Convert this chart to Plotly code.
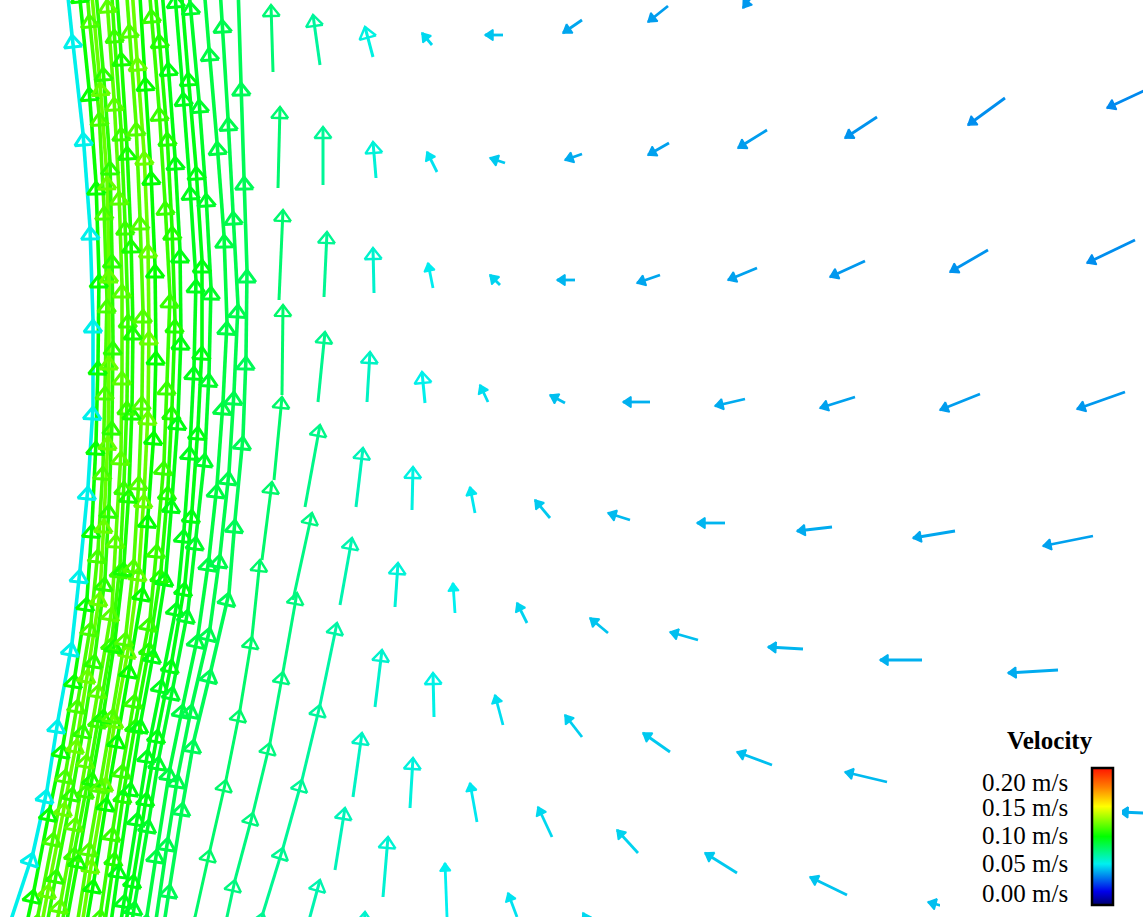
import math
import plotly.graph_objects as go
import plotly.colors as pc

# ---------------- data ----------------
# Isolated velocity vectors: tail position (x, depth in mm, depth grows downward)
# and in-plane velocity components u (to the right) and w (upward) in m/s,
# plus the velocity magnitude used for colouring.
tail_x = [
    # column Z
    273, 278, 279, 282, 274, 262, 252, 240, 226, 210, 195, 182,
    # column A
    320, 323, 324, 318, 305, 293, 283, 270, 253, 235, 222,
    # column B
    373, 376, 374, 367, 356, 340, 320, 302, 283, 263, 248,
    # column C
    432, 437, 433, 425, 412, 395, 375, 353, 335, 305,
    # column D
    503, 505, 500, 488, 475, 455, 434, 410, 383, 362,
    # column E
    582, 582, 575, 565, 550, 527, 503, 477, 447,
    # column F
    668, 669, 660, 650, 630, 608, 582, 552, 517,
    # column G
    755, 767, 757, 745, 725, 698, 670, 638, 598,
    # column H
    877, 865, 855, 832, 803, 772, 737,
    # column I
    1005, 988, 980, 955, 922, 887, 847,
    # column J
    1150, 1135, 1125, 1093, 1058, 1015, 975,
    # column K
    1190,
]
tail_depth = [
    72, 188, 300, 395, 480, 560, 637, 710, 780, 850, 917, 975,
    65, 185, 297, 402, 507, 600, 672, 743, 813, 880, 940,
    57, 178, 293, 402, 507, 605, 705, 780, 848, 913, 965,
    45, 172, 288, 403, 510, 607, 707, 797, 870, 935,
    35, 163, 285, 402, 513, 613, 717, 808, 897, 965,
    20, 154, 280, 403, 518, 623, 725, 822, 917,
    6, 143, 275, 402, 520, 633, 737, 837, 917,
    -8, 130, 268, 399, 523, 640, 752, 853, 940,
    117, 261, 397, 527, 649, 765, 873,
    98, 250, 394, 531, 660, 782, 895,
    88, 240, 392, 536, 670, 795, 915,
    815,
]
vel_u = [
    -0.002, 0.002, 0.004, 0.001, 0.008, 0.010, 0.008, 0.012, 0.014, 0.016, 0.015, 0.013,
    -0.007, 0.000, 0.003, 0.007, 0.015, 0.019, 0.014, 0.013, 0.017, 0.018, 0.013,
    -0.008, -0.003, -0.001, 0.003, 0.007, 0.012, 0.017, 0.018, 0.019, 0.020, 0.015,
    -0.010, -0.010, -0.005, -0.003, 0.001, 0.003, 0.007, 0.009, 0.010, 0.015,
    -0.018, -0.015, -0.010, -0.008, -0.005, -0.002, -0.001, 0.003, 0.005, 0.003,
    -0.019, -0.017, -0.018, -0.015, -0.015, -0.010, -0.008, -0.007, -0.002,
    -0.020, -0.021, -0.023, -0.027, -0.022, -0.018, -0.017, -0.014, -0.009,
    -0.012, -0.029, -0.029, -0.030, -0.028, -0.028, -0.027, -0.021, -0.015,
    -0.032, -0.035, -0.035, -0.035, -0.035, -0.035, -0.032,
    -0.037, -0.038, -0.040, -0.042, -0.042, -0.042, -0.037,
    -0.043, -0.048, -0.048, -0.050, -0.050, -0.050, -0.047,
    -0.070,
]
vel_w = [
    0.067, 0.081, 0.090, 0.090, 0.083, 0.078, 0.077, 0.073, 0.070, 0.070, 0.067, 0.058,
    0.050, 0.058, 0.065, 0.070, 0.082, 0.087, 0.079, 0.071, 0.070, 0.067, 0.060,
    0.030, 0.036, 0.045, 0.050, 0.059, 0.067, 0.082, 0.075, 0.068, 0.065, 0.052,
    0.012, 0.020, 0.025, 0.031, 0.043, 0.044, 0.057, 0.064, 0.062, 0.055,
    0.000, 0.005, 0.010, 0.017, 0.026, 0.030, 0.044, 0.050, 0.060, 0.053,
    -0.013, -0.006, 0.000, 0.008, 0.018, 0.020, 0.030, 0.039, 0.054,
    -0.016, -0.012, -0.008, 0.000, 0.007, 0.015, 0.022, 0.030, 0.024,
    -0.016, -0.018, -0.012, -0.007, 0.000, 0.008, 0.019, 0.023, 0.027,
    -0.021, -0.016, -0.011, -0.004, 0.002, 0.013, 0.020,
    -0.027, -0.022, -0.016, -0.007, 0.000, 0.010, 0.018,
    -0.020, -0.023, -0.017, -0.010, -0.003, 0.005, 0.013,
    0.003,
]
vel_mag = [
    0.080, 0.081, 0.081, 0.082, 0.082, 0.082, 0.082, 0.082, 0.082, 0.082, 0.082, 0.082,
    0.072, 0.073, 0.074, 0.075, 0.076, 0.077, 0.078, 0.078, 0.078, 0.078, 0.078,
    0.058, 0.060, 0.062, 0.064, 0.066, 0.068, 0.070, 0.072, 0.073, 0.074, 0.074,
    0.050, 0.052, 0.054, 0.056, 0.058, 0.060, 0.062, 0.064, 0.066, 0.068,
    0.046, 0.047, 0.049, 0.051, 0.053, 0.055, 0.057, 0.059, 0.061, 0.062,
    0.040, 0.041, 0.043, 0.045, 0.047, 0.049, 0.051, 0.053, 0.055,
    0.038, 0.039, 0.040, 0.042, 0.044, 0.046, 0.048, 0.050, 0.052,
    0.037, 0.038, 0.039, 0.041, 0.043, 0.045, 0.047, 0.049, 0.050,
    0.036, 0.037, 0.039, 0.041, 0.043, 0.045, 0.047,
    0.035, 0.036, 0.038, 0.040, 0.042, 0.044, 0.046,
    0.034, 0.035, 0.037, 0.039, 0.041, 0.043, 0.045,
    0.042,
]

# Dense near-wall jet: chains of arrows along mesh columns
# (vertices from bottom to top, each arrow runs from one vertex to the next).
col_x = [
    [6, 33, 47, 58, 72, 80, 88, 93, 93, 90, 83, 72, 62],
    [20, 34, 50, 63, 75, 87, 92, 96, 98, 99, 96, 89, 79, 70],
    [26, 38, 54, 66, 78, 91, 98, 103, 105, 107, 104, 99, 89, 81],
    [37, 49, 65, 77, 88, 100, 104, 108, 109, 109, 107, 100, 91, 82],
    [45, 57, 73, 84, 95, 105, 109, 112, 113, 112, 110, 103, 94, 86],
    [49, 61, 76, 87, 99, 112, 116, 121, 122, 122, 119, 114, 107, 100],
    [49, 61, 75, 87, 99, 112, 120, 124, 127, 128, 125, 121, 114, 108],
    [67, 79, 93, 104, 115, 124, 129, 132, 133, 131, 127, 121, 114, 108],
    [66, 77, 90, 101, 113, 126, 134, 139, 142, 143, 140, 136, 129, 122],
    [82, 92, 106, 116, 129, 139, 144, 148, 149, 148, 144, 137, 130, 123],
    [83, 94, 107, 118, 130, 143, 148, 154, 156, 155, 151, 145, 139, 132],
    [91, 101, 113, 123, 135, 150, 157, 164, 167, 170, 165, 159, 151, 143],
    [94, 103, 115, 124, 136, 150, 161, 168, 172, 175, 172, 167, 159, 151],
    [110, 119, 131, 141, 154, 166, 172, 178, 181, 180, 175, 168, 160, 153],
    [115, 125, 138, 148, 162, 177, 184, 190, 194, 196, 190, 183, 175, 166],
    [123, 134, 147, 158, 172, 185, 192, 198, 202, 202, 196, 188, 180, 172],
    [125, 135, 149, 159, 173, 188, 196, 205, 209, 211, 206, 199, 190, 182],
    [137, 147, 157, 170, 183, 198, 209, 217, 223, 227, 224, 217, 209, 201, 192],
    [145, 156, 168, 178, 192, 210, 220, 229, 234, 238, 233, 228, 222, 216],
    [160, 170, 183, 194, 211, 229, 235, 243, 246, 247, 244, 241, 238, 234],
]
col_depth = [
    [935, 853, 790, 720, 643, 570, 487, 407, 320, 227, 133, 35, -60],
    [955, 890, 808, 745, 675, 598, 525, 442, 362, 275, 182, 88, -10, -105],
    [980, 915, 833, 770, 700, 623, 550, 467, 387, 300, 207, 113, 15, -80],
    [950, 885, 803, 740, 670, 593, 520, 437, 357, 270, 177, 83, -15, -110],
    [935, 870, 788, 725, 655, 578, 505, 422, 342, 255, 162, 68, -30, -125],
    [965, 900, 818, 755, 685, 608, 535, 452, 372, 285, 192, 98, 0, -95],
    [995, 930, 848, 785, 715, 638, 565, 482, 402, 315, 222, 128, 30, -65],
    [920, 855, 773, 710, 640, 563, 490, 407, 327, 240, 147, 53, -45, -140],
    [990, 925, 843, 780, 710, 633, 560, 477, 397, 310, 217, 123, 25, -70],
    [925, 860, 778, 715, 645, 568, 495, 412, 332, 245, 152, 58, -40, -135],
    [945, 880, 798, 735, 665, 588, 515, 432, 352, 265, 172, 78, -20, -115],
    [975, 910, 828, 765, 695, 618, 545, 462, 382, 295, 202, 108, 10, -85],
    [1000, 935, 853, 790, 720, 643, 570, 487, 407, 320, 227, 133, 35, -60],
    [930, 865, 783, 720, 650, 573, 500, 417, 337, 250, 157, 63, -35, -130],
    [960, 895, 813, 750, 680, 603, 530, 447, 367, 280, 187, 93, -5, -100],
    [940, 875, 793, 730, 660, 583, 510, 427, 347, 260, 167, 73, -25, -120],
    [967, 902, 820, 757, 687, 610, 537, 454, 374, 287, 194, 100, 2, -93],
    [980, 915, 850, 768, 705, 635, 558, 485, 402, 322, 235, 142, 48, -50, -145],
    [985, 920, 838, 775, 705, 628, 555, 472, 392, 305, 212, 118, 20, -75],
    [950, 885, 803, 740, 670, 593, 520, 437, 357, 270, 177, 83, -15, -110],
]
col_speed = [0.056, 0.105, 0.118, 0.125, 0.112, 0.122, 0.115, 0.108, 0.120, 0.125,
             0.104, 0.115, 0.110, 0.100, 0.098, 0.100, 0.095, 0.090, 0.088, 0.086]

legend_title = "Velocity"
legend_values = [0.20, 0.15, 0.10, 0.05, 0.00]

# ---------------- styling ----------------
SCALE = 1000.0            # mm of arrow per m/s
CMIN, CMAX = -0.018, 0.225
COLORSCALE = [[0.0, "rgb(0,0,110)"], [0.1, "rgb(0,0,235)"], [0.3, "rgb(0,240,240)"],
              [0.5, "rgb(0,255,0)"], [0.72, "rgb(255,255,0)"], [0.86, "rgb(255,128,0)"],
              [1.0, "rgb(255,20,0)"]]
W_PX, H_PX = 1143, 917


def color_of(s):
    f = min(max((s - CMIN) / (CMAX - CMIN), 0.0), 1.0)
    return pc.sample_colorscale(COLORSCALE, [f])[0]


arrows = []  # (tx, td, hx, hd, speed, chained)
for tx, td, uu, ww, s in zip(tail_x, tail_depth, vel_u, vel_w, vel_mag):
    arrows.append((tx, td, tx + uu * SCALE, td - ww * SCALE, s, False))
for xs, ds, s in zip(col_x, col_depth, col_speed):
    for k in range(len(xs) - 1):
        arrows.append((xs[k], ds[k], xs[k + 1], ds[k + 1], s, True))

shafts = {}
heads = {}
for tx, td, hx, hd, s, chained in arrows:
    if chained:
        hw, hl, width, filled = 18.0, 12.0, 3.6, False
    elif s >= 0.056:
        hw, hl, width, filled = 17.0, 11.0, 3.0, False
    else:
        hw, hl, width, filled = 11.0, 8.0, 2.8, True
    col = color_of(s)
    sx, sy = shafts.setdefault((col, width), ([], []))
    dx, dd = hx - tx, hd - td
    ln = math.hypot(dx, dd)
    if ln == 0:
        continue
    ex, ed = dx / ln, dd / ln
    nx, nd = -ed, ex
    bx, bd = hx - hl * ex, hd - hl * ed
    c1 = (bx + hw / 2 * nx, bd + hw / 2 * nd)
    c2 = (bx - hw / 2 * nx, bd - hw / 2 * nd)
    sx += [tx, hx, None]
    sy += [td, hd, None]
    hx_l, hy_l = heads.setdefault((col, width, filled), ([], []))
    hx_l += [c1[0], hx, c2[0], c1[0], None]
    hy_l += [c1[1], hd, c2[1], c1[1], None]

fig = go.Figure()
for (col, width), (gx, gy) in shafts.items():
    fig.add_trace(go.Scatter(x=gx, y=gy, mode="lines",
                             line=dict(color=col, width=width),
                             hoverinfo="skip", showlegend=False))
for (col, width, filled), (gx, gy) in heads.items():
    fig.add_trace(go.Scatter(x=gx, y=gy, mode="lines",
                             line=dict(color=col, width=width - 0.6 if not filled else 1.5),
                             fill="toself" if filled else "none",
                             fillcolor=col,
                             hoverinfo="skip", showlegend=False))

# carrier of the colour scale (the arrow heads)
fig.add_trace(go.Scatter(
    x=[a[2] for a in arrows], y=[a[3] for a in arrows], mode="markers",
    marker=dict(color=[a[4] for a in arrows], coloraxis="coloraxis", size=2, opacity=0),
    hoverinfo="skip", showlegend=False))

bar_top, bar_bot = 768, 905
fig.update_layout(
    width=W_PX, height=H_PX,
    margin=dict(l=0, r=0, t=0, b=0),
    paper_bgcolor="white", plot_bgcolor="white",
    xaxis=dict(range=[0, W_PX], visible=False, fixedrange=True),
    yaxis=dict(range=[H_PX, 0], visible=False, fixedrange=True),
    coloraxis=dict(
        colorscale=COLORSCALE, cmin=CMIN, cmax=CMAX,
        colorbar=dict(
            x=1092 / W_PX, xanchor="left", xpad=0,
            y=1 - (bar_top + bar_bot) / 2 / H_PX, yanchor="middle", ypad=0,
            len=bar_bot - bar_top, lenmode="pixels",
            thickness=21, thicknessmode="pixels",
            outlinewidth=2.5, outlinecolor="black",
            showticklabels=False, ticks="")),
    shapes=[dict(type="rect", xref="paper", yref="paper",
                 x0=940 / W_PX, x1=1122 / W_PX, y0=0, y1=1 - 722 / H_PX,
                 fillcolor="white", line=dict(width=0), layer="above")],
)

serif = "Liberation Serif, Times New Roman, serif"
fig.add_annotation(x=1050 / W_PX, y=1 - 740 / H_PX, xref="paper", yref="paper",
                   text="<b>" + legend_title + "</b>", showarrow=False,
                   font=dict(family=serif, size=25, color="black"),
                   xanchor="center", yanchor="middle")
label_py = [782, 807, 835, 863, 893]
for v, py in zip(legend_values, label_py):
    fig.add_annotation(x=980 / W_PX, y=1 - py / H_PX, xref="paper", yref="paper",
                       text=f"{v:.2f} m/s", showarrow=False,
                       font=dict(family=serif, size=25, color="black"),
                       xanchor="left", yanchor="middle")

fig.write_html("out.html", config={"displayModeBar": False},
               post_script="document.body.style.margin='0';"
                           "document.body.style.overflow='hidden';")
